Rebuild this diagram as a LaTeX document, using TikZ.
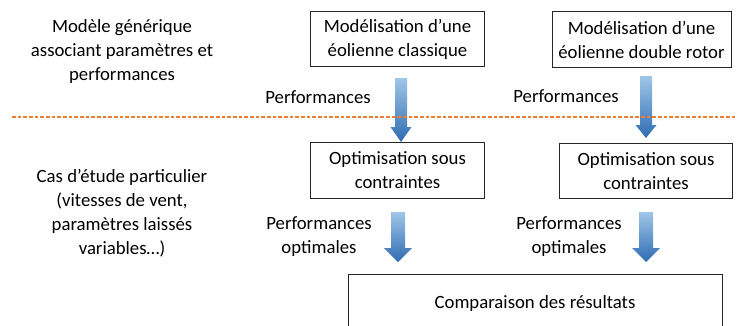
\documentclass[tikz,border=0pt]{standalone}
\usepackage{fontspec}
\setmainfont{Carlito}
\definecolor{arrowtop}{RGB}{160,198,232}
\definecolor{arrowbot}{RGB}{46,108,178}
\definecolor{seporange}{RGB}{237,125,49}
\usetikzlibrary{calc}

% block arrow: top point, tip point, shaft half width, head half width, head length
\newcommand{\blockarrow}[5]{%
  \shade[top color=arrowtop,bottom color=arrowbot]
    ($(#1)+(-#3,0)$) -- ($(#1)+(#3,0)$) -- ($(#2)+(#3,-#5)$) -- ($(#2)+(#4,-#5)$)
    -- (#2) -- ($(#2)+(-#4,-#5)$) -- ($(#2)+(-#3,-#5)$) -- cycle;}

\begin{document}
\begin{tikzpicture}[x=0.03cm,y=-0.03cm,
  font=\fontsize{16}{20.5}\selectfont,
  box/.style={draw=black!85,line width=0.8pt,fill=white,align=center,
    minimum width=5.2cm,minimum height=1.67cm,inner sep=2pt},
  lbl/.style={align=center}
]
  \clip (0,0) rectangle (737,325);
  \fill[white] (0,0) rectangle (737,325);

  % Left column
  \node[lbl] (generic) at (122,51.5) {Modèle générique\\associant paramètres et\\performances};
  \node[lbl] (study) at (122,213) {Cas d’étude particulier\\(vitesses de vent,\\paramètres laissés\\variables…)};

  % Modelling boxes
  \node[box] (classic) at (397.5,39) {Modélisation d’une\\éolienne classique};
  \node[box,minimum width=5.37cm] (double) at (641.5,39.5) {Modélisation d’une\\éolienne double rotor};

  % Optimisation boxes
  \node[box] (optA) at (397.5,170.5) {Optimisation sous\\contraintes};
  \node[box] (optB) at (646,171) {Optimisation sous\\contraintes};

  % Comparison box
  \node[box,anchor=north,minimum width=11.22cm,minimum height=1.74cm] (compare) at (535,274) {Comparaison des résultats};

  % Arrow labels
  \node[lbl] (perfA) at (318,97) {Performances};
  \node[lbl] (perfB) at (566,96) {Performances};
  \node[lbl] (optimA) at (319,236.5) {Performances\\optimales};
  \node[lbl] (optimB) at (569,236.5) {Performances\\optimales};

  % Arrow ends
  \coordinate (a1) at (401,78);  \coordinate (b1) at (401,142);
  \coordinate (a2) at (646,76);  \coordinate (b2) at (646,138);
  \coordinate (a3) at (398,212); \coordinate (b3) at (398,262);
  \coordinate (a4) at (646,212); \coordinate (b4) at (646,262);
  \blockarrow{a1}{b1}{6}{10.5}{15}
  \blockarrow{a2}{b2}{6}{10.5}{13}
  \blockarrow{a3}{b3}{7}{14}{14}
  \blockarrow{a4}{b4}{7}{14}{14}

  % Separator
  \coordinate (sepL) at (12,117);
  \coordinate (sepR) at (737,117);
  \draw[seporange,line width=0.9pt,dash pattern=on 0.11cm off 0.06cm] (sepL) -- (sepR);
\end{tikzpicture}
\end{document}
